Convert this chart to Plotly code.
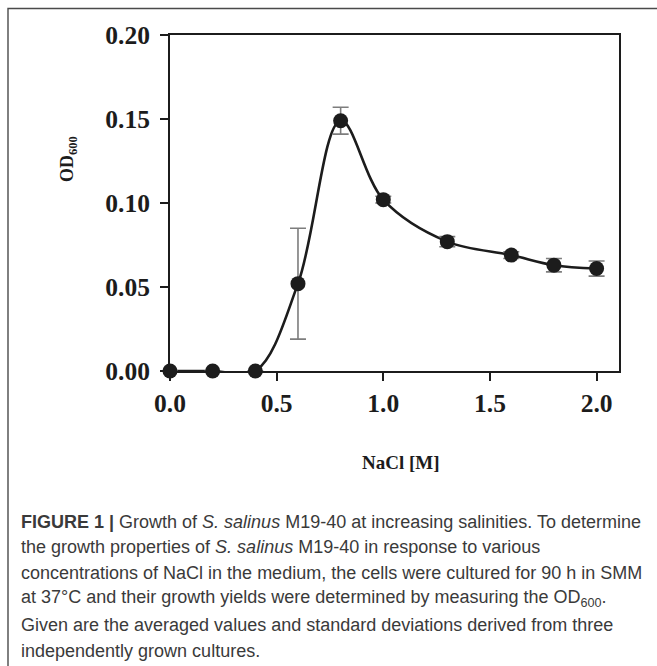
import plotly.graph_objects as go

# ---- data ----
nacl = [0.0, 0.2, 0.4, 0.6, 0.8, 1.0, 1.3, 1.6, 1.8, 2.0]
od600 = [0.000, 0.000, 0.000, 0.052, 0.149, 0.102, 0.077, 0.069, 0.063, 0.061]
od_sd = [0.000, 0.000, 0.000, 0.033, 0.008, 0.002, 0.003, 0.002, 0.004, 0.0045]
x_ticks = [0.0, 0.5, 1.0, 1.5, 2.0]
y_ticks = [0.00, 0.05, 0.10, 0.15, 0.20]

caption_lines = [
    "<b>FIGURE 1 |</b> Growth of <i>S. salinus</i> M19-40 at increasing salinities. To determine",
    "the growth properties of <i>S. salinus</i> M19-40 in response to various",
    "concentrations of NaCl in the medium, the cells were cultured for 90 h in SMM",
    "at 37°C and their growth yields were determined by measuring the OD<sub>600</sub>.",
    "Given are the averaged values and standard deviations derived from three",
    "independently grown cultures.",
]

# ---- layout geometry (pixels) ----
W, H = 657, 666
L, R, T, B = 170, 619, 35, 371


def px(x):
    return (x - L) / (R - L)


def py(y):
    return (B - y) / (B - T)


INK = "#1c1c1c"
SERIF = "Liberation Serif"

fig = go.Figure()

# smooth curve
fig.add_trace(go.Scatter(
    x=nacl, y=od600, mode="lines",
    line=dict(color=INK, width=2.6, shape="spline", smoothing=1.0),
    hoverinfo="skip", showlegend=False,
))

# points with error bars
fig.add_trace(go.Scatter(
    x=nacl, y=od600, mode="markers",
    marker=dict(color=INK, size=15),
    error_y=dict(type="data", array=od_sd, visible=True,
                 color="#7d7d7d", thickness=1.6, width=8),
    cliponaxis=False, showlegend=False,
))

axis_common = dict(
    showline=True, linecolor=INK, linewidth=2, mirror=True,
    ticks="outside", ticklen=8, tickwidth=2, tickcolor=INK,
    showgrid=False, zeroline=False,
    tickfont=dict(family=SERIF, size=25.5, color=INK, weight="bold"),
)

fig.update_xaxes(range=[0, 2.105], tickvals=x_ticks,
                 ticktext=[f"{v:.1f}" for v in x_ticks], **axis_common)
fig.update_yaxes(range=[0, 0.2], tickvals=y_ticks, ticklabelstandoff=5,
                 ticktext=[f"{v:.2f}" for v in y_ticks], **axis_common)

annotations = [
    dict(text="<b>NaCl [M]</b>", x=px(401), y=py(462), xref="paper", yref="paper",
         xanchor="center", yanchor="middle", showarrow=False,
         font=dict(family=SERIF, size=19, color=INK)),
    dict(text="<b>OD<sub>600</sub></b>", x=px(68), y=py(159), xref="paper", yref="paper",
         xanchor="center", yanchor="middle", showarrow=False, textangle=-90,
         font=dict(family=SERIF, size=18, color=INK)),
]
for i, line in enumerate(caption_lines):
    annotations.append(dict(
        text=line, x=px(19), y=py(521.5 + 25.8 * i), xref="paper", yref="paper",
        xanchor="left", yanchor="middle", showarrow=False, align="left",
        font=dict(family="Liberation Sans", size=18, color="#3a3a3a"),
    ))

shapes = [dict(type="rect", xref="paper", yref="paper",
               x0=px(8), x1=px(700), y0=py(720), y1=py(8.5),
               line=dict(color="#4a4a4a", width=1.4), fillcolor="rgba(0,0,0,0)",
               layer="below")]

fig.update_layout(
    width=W, height=H,
    margin=dict(l=L, r=W - R, t=T, b=H - B, pad=0),
    paper_bgcolor="white", plot_bgcolor="white",
    annotations=annotations, shapes=shapes,
    showlegend=False,
)

fig.write_html("out.html")
